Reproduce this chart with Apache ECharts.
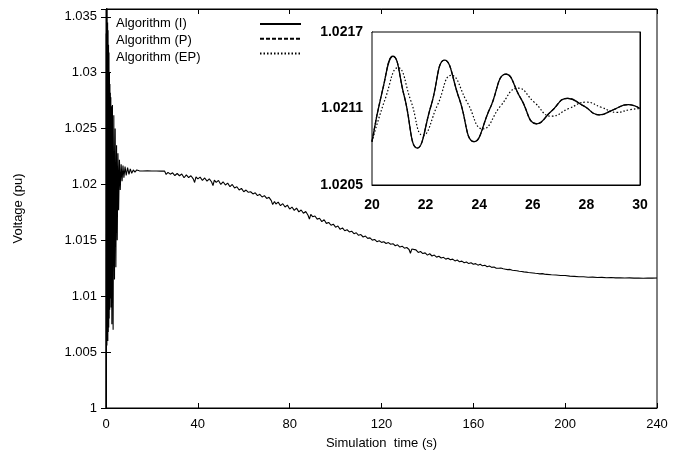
<!DOCTYPE html>
<html>
<head>
<meta charset="utf-8">
<script src="https://cdn.jsdelivr.net/npm/echarts@6/dist/echarts.min.js"></script>
<style>html,body{margin:0;padding:0;background:#fff;}#chart{width:685px;height:460px;}</style>
</head>
<body>
<div id="chart"></div>
<script>
// ---- Data ----
const seriesNames = ['Algorithm (I)', 'Algorithm (P)', 'Algorithm (EP)'];
const xTickLabels = [0, 40, 80, 120, 160, 200, 240];
const yTickLabels = [1, 1.005, 1.01, 1.015, 1.02, 1.025, 1.03, 1.035];
const insetXTicks = [20, 22, 24, 26, 28, 30];
const insetYTicks = [1.0205, 1.0211, 1.0217];

// Main curve: [time (s), voltage (pu)]
const mainCurve = [
  [0, 1.0000], [0.1, 1.0335], [0.2, 1.0058], [0.3, 1.0362], [0.4, 1.0056], [0.5, 1.0358], [0.6, 1.0062],
  [0.7, 1.0345], [0.8, 1.0060], [0.9, 1.0338], [1.0, 1.0068], [1.1, 1.0325], [1.2, 1.0072], [1.3, 1.0318],
  [1.4, 1.0080], [1.5, 1.0300], [1.6, 1.0088], [1.7, 1.0290], [1.8, 1.0098], [1.9, 1.0282], [2.0, 1.0105],
  [2.1, 1.0278], [2.2, 1.0090], [2.35, 1.0270], [2.55, 1.0075], [2.8, 1.0271], [3.1, 1.0070], [3.4, 1.0262],
  [3.7, 1.0115], [4.0, 1.0250], [4.3, 1.0126], [4.6, 1.0235], [4.9, 1.0150], [5.2, 1.0228], [5.5, 1.0177],
  [5.85, 1.0222], [6.2, 1.0195], [6.6, 1.0218], [7.0, 1.0203], [7.4, 1.0217], [7.8, 1.0206], [8.3, 1.0216],
  [8.8, 1.0208], [9.4, 1.0215], [10.0, 1.0209], [10.6, 1.0214], [11.2, 1.0210], [11.9, 1.0213], [12.6, 1.0211],
  [13.4, 1.0213], [14.5, 1.02122], [16, 1.02121], [18, 1.02123], [20, 1.02120], [22, 1.02121], [24, 1.02119],
  [25.5, 1.02120], [26.2, 1.02090], [27, 1.02108], [28, 1.02092], [29, 1.02104], [30, 1.02080], [31, 1.02098],
  [32, 1.02078], [33, 1.02094], [34, 1.02060], [35, 1.02085], [36, 1.02062], [37, 1.02078], [38, 1.02050],
  [38.6, 1.02018], [39.2, 1.02068], [40, 1.02050], [41, 1.02066], [42, 1.02036], [43, 1.02058], [44, 1.02030],
  [45, 1.02050], [46, 1.02022], [46.6, 1.01990], [47.2, 1.02038], [48, 1.02018], [49, 1.02036], [50, 1.02000],
  [51, 1.02024], [52, 1.01995], [53, 1.02012], [54, 1.01980], [55, 1.02000], [56, 1.01968], [57, 1.01980],
  [58, 1.01950], [59, 1.01965], [60, 1.01935], [61, 1.01950], [62, 1.01930], [63, 1.01935], [64, 1.01915],
  [65, 1.01925], [66, 1.01900], [67, 1.01912], [68, 1.01888], [69, 1.01900], [70, 1.01875], [71, 1.01885],
  [72, 1.01855], [72.6, 1.01820], [73.4, 1.01848], [74, 1.01825], [75, 1.01842], [76, 1.01810], [77, 1.01828],
  [78, 1.01798], [79, 1.01815], [80, 1.01780], [81, 1.01798], [82, 1.01768], [83, 1.01788], [84, 1.01755],
  [85, 1.01772], [86, 1.01742], [87, 1.01758], [88, 1.01725], [88.6, 1.01690], [89.2, 1.01732], [90, 1.01712],
  [91, 1.01718], [92, 1.01690], [93, 1.01698], [94, 1.01668], [95, 1.01684], [96, 1.01652], [97, 1.01660],
  [98, 1.01635], [99, 1.01645], [100, 1.01618], [101, 1.01628], [102, 1.01598], [103, 1.01612], [104, 1.01586],
  [105, 1.01595], [106, 1.01575], [107, 1.01582], [108, 1.01560], [109, 1.01568], [110, 1.01545], [111, 1.01552],
  [112, 1.01530], [113, 1.01538], [114, 1.01518], [115, 1.01522], [116, 1.01502], [117, 1.01508], [118, 1.01488],
  [119, 1.01496], [120, 1.01482], [121, 1.01488], [122, 1.01472], [123, 1.01480], [124, 1.01465], [125, 1.01470],
  [126, 1.01452], [127, 1.01460], [128, 1.01440], [129, 1.01448], [130, 1.01430], [131, 1.01436], [132, 1.01418],
  [132.6, 1.01385], [133.2, 1.01422], [134, 1.01405], [135, 1.01415], [136, 1.01392], [137, 1.01400],
  [138, 1.01382], [139, 1.01388], [140, 1.01368], [141, 1.01380], [142, 1.01360], [143, 1.01368], [144, 1.01350],
  [145, 1.01358], [146, 1.01342], [147, 1.01348], [148, 1.01332], [149, 1.01340], [150, 1.01326], [151, 1.01332],
  [152, 1.01316], [153, 1.01324], [154, 1.01308], [155, 1.01314], [156, 1.01300], [157, 1.01306], [158, 1.01292],
  [159, 1.01300], [160, 1.01286], [161, 1.01292], [162, 1.01278], [163, 1.01286], [164, 1.01272], [165, 1.01278],
  [166, 1.01264], [167, 1.01270], [168, 1.01258], [169, 1.01262], [170, 1.01250], [171, 1.01250], [172, 1.01252],
  [173, 1.01246], [174, 1.01242], [175, 1.01238], [176, 1.01240], [177, 1.01232], [178, 1.01230], [179, 1.01228],
  [180, 1.01224], [181, 1.01222], [182, 1.01218], [183, 1.01216], [184, 1.01212], [185, 1.01210], [186, 1.01208],
  [187, 1.01205], [188, 1.01204], [189, 1.01200], [190, 1.01202], [191, 1.01198], [192, 1.01196], [194, 1.01192],
  [196, 1.01190], [198, 1.01186], [200, 1.01185], [202, 1.01180], [204, 1.01178], [206, 1.01175], [208, 1.01174],
  [210, 1.01170], [212, 1.01171], [214, 1.01168], [216, 1.01169], [218, 1.01166], [220, 1.01167], [222, 1.01164],
  [224, 1.01165], [226, 1.01163], [228, 1.01164], [230, 1.01162], [232, 1.01163], [234, 1.01161], [236, 1.01163],
  [238, 1.01162], [240, 1.01163]
];

// Inset (20 s – 30 s)
const insetT_I = [20, 20.4, 20.78, 21.2, 21.69, 22.2, 22.71, 23.25, 23.81, 24.4, 25.0, 25.55, 26.15, 26.7, 27.29, 27.9, 28.48, 29.0, 29.56, 30];
const insetV_I = [1.02084, 1.02125, 1.02151, 1.02120, 1.02079, 1.02112, 1.02148, 1.02118, 1.02084, 1.02110, 1.02137, 1.02118, 1.02098, 1.02108, 1.02118, 1.02112, 1.02105, 1.02109, 1.02113, 1.02110];
const insetT_P = insetT_I;   // dashed curve lies under the solid one
const insetV_P = insetV_I;
const insetT_EP = [20, 20.5, 20.97, 21.45, 21.9, 22.45, 22.96, 23.55, 24.14, 24.8, 25.45, 26.05, 26.7, 27.35, 28.0, 28.55, 29.13, 29.6, 30];
const insetV_EP = [1.02084, 1.02118, 1.02142, 1.02116, 1.02089, 1.02113, 1.02136, 1.02115, 1.02094, 1.02112, 1.02126, 1.02115, 1.02104, 1.02110, 1.02115, 1.02111, 1.02107, 1.02109, 1.02110];

// ---- Chart ----
const FONT = 'Liberation Sans, Arial, Helvetica, sans-serif';
const pairs = (xs, ys) => xs.map((x, i) => [x, ys[i]]);
const chart = echarts.init(document.getElementById('chart'), null, { renderer: 'canvas' });

const axisLineBlack = { show: true, lineStyle: { color: '#000', width: 1 } };
const tickIn = (len) => ({ show: true, inside: true, length: len, lineStyle: { color: '#000', width: 1 } });

const option = {
  animation: false,
  backgroundColor: '#fff',
  textStyle: { fontFamily: FONT, color: '#000' },
  grid: [
    { left: 106, right: 28, top: 9, bottom: 52, show: true, borderColor: '#000', borderWidth: 1, backgroundColor: 'transparent' },
    { left: 372, width: 268, top: 32, height: 153, show: true, borderColor: '#000', borderWidth: 1, backgroundColor: '#fff', z: 5 }
  ],
  legend: [
    {
      data: seriesNames, orient: 'vertical', left: 106, top: 12, itemGap: 4, itemWidth: 0, itemHeight: 12,
      icon: 'none', selectedMode: false,
      textStyle: { fontFamily: FONT, fontSize: 13, color: '#000' }
    },
    {
      data: seriesNames, orient: 'vertical', left: 254, top: 13, itemGap: 4, itemWidth: 41, itemHeight: 12,
      selectedMode: false, formatter: () => '',
      itemStyle: { opacity: 0 },
      textStyle: { fontFamily: FONT, fontSize: 13, color: '#000' }
    }
  ],
  xAxis: [
    { type: 'value', gridIndex: 0, position: 'bottom', min: 0, max: 240, interval: 40,
      axisLine: axisLineBlack, axisTick: tickIn(5), splitLine: { show: false },
      axisLabel: { margin: 10, fontSize: 13, color: '#000', fontFamily: FONT, customValues: xTickLabels },
      name: 'Simulation  time (s)', nameLocation: 'middle', nameGap: 29,
      nameTextStyle: { fontSize: 13, color: '#000', fontFamily: FONT } },
    { type: 'value', gridIndex: 0, position: 'top', min: 0, max: 240, interval: 40,
      axisLine: axisLineBlack, axisTick: tickIn(5), splitLine: { show: false }, axisLabel: { show: false } },
    { type: 'value', gridIndex: 1, position: 'bottom', min: 20, max: 30, interval: 2,
      axisLine: axisLineBlack, axisTick: tickIn(4), splitLine: { show: false },
      axisLabel: { margin: 13, fontSize: 14, fontWeight: 'bold', color: '#000', fontFamily: FONT, customValues: insetXTicks } },
    { type: 'value', gridIndex: 1, position: 'top', min: 20, max: 30, interval: 2,
      axisLine: axisLineBlack, axisTick: tickIn(4), splitLine: { show: false }, axisLabel: { show: false } }
  ],
  yAxis: [
    { type: 'value', gridIndex: 0, position: 'left', min: 1, max: 1.0357, interval: 0.005,
      axisLine: axisLineBlack, axisTick: tickIn(5), splitLine: { show: false },
      axisLabel: { margin: 9, fontSize: 13, color: '#000', fontFamily: FONT, customValues: yTickLabels },
      name: 'Voltage (pu)', nameLocation: 'middle', nameGap: 81,
      nameTextStyle: { fontSize: 13, color: '#000', fontFamily: FONT } },
    { type: 'value', gridIndex: 0, position: 'right', min: 1, max: 1.0357, interval: 0.005,
      axisLine: axisLineBlack, axisTick: tickIn(5), splitLine: { show: false }, axisLabel: { show: false } },
    { type: 'value', gridIndex: 1, position: 'left', min: 1.0205, max: 1.0217, interval: 0.0006,
      axisLine: axisLineBlack, axisTick: tickIn(4), splitLine: { show: false },
      axisLabel: { margin: 9, fontSize: 14, fontWeight: 'bold', color: '#000', fontFamily: FONT,
        customValues: insetYTicks, formatter: (v) => v.toFixed(4) } },
    { type: 'value', gridIndex: 1, position: 'right', min: 1.0205, max: 1.0217, interval: 0.0006,
      axisLine: axisLineBlack, axisTick: tickIn(4), splitLine: { show: false }, axisLabel: { show: false } }
  ],
  series: [
    { name: seriesNames[0], type: 'line', xAxisIndex: 0, yAxisIndex: 0, data: mainCurve,
      symbol: 'none', lineStyle: { color: '#000', width: 1.1 }, itemStyle: { color: '#000' }, z: 3 },
    { name: seriesNames[1], type: 'line', xAxisIndex: 2, yAxisIndex: 2, data: pairs(insetT_P, insetV_P),
      symbol: 'none', smooth: 0.5, lineStyle: { color: '#000', width: 1.2, type: [4, 2] }, itemStyle: { color: '#000' }, z: 6 },
    { name: seriesNames[2], type: 'line', xAxisIndex: 2, yAxisIndex: 2, data: pairs(insetT_EP, insetV_EP),
      symbol: 'none', smooth: 0.5, lineStyle: { color: '#000', width: 1.2, type: [1.5, 2] }, itemStyle: { color: '#000' }, z: 6 },
    { name: seriesNames[0], type: 'line', xAxisIndex: 2, yAxisIndex: 2, data: pairs(insetT_I, insetV_I),
      symbol: 'none', smooth: 0.5, lineStyle: { color: '#000', width: 1.3 }, itemStyle: { color: '#000' }, z: 7 }
  ]
};
chart.setOption(option);
</script>
</body>
</html>
